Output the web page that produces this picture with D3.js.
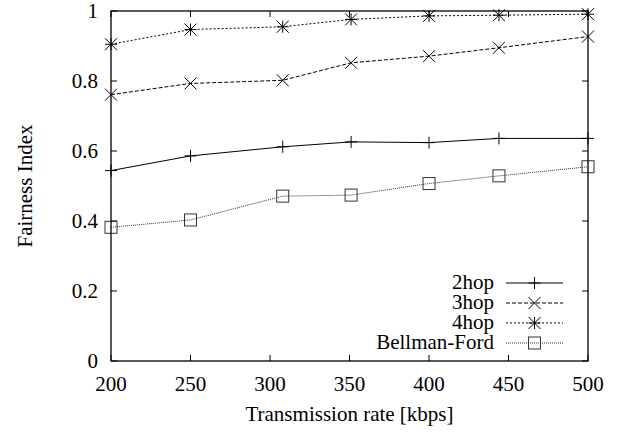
<!DOCTYPE html>
<html>
<head>
<meta charset="utf-8">
<script src="https://cdn.jsdelivr.net/npm/d3@7"></script>
<style>
  body { margin: 0; background: #fff; }
</style>
</head>
<body>
<div id="container"></div>
<script>
/* CONSTANTS AND GLOBALS */
const width = 623,
  height = 432,
  margin = {top: 11, bottom: 71, left: 111, right: 35};

/* DATA */
const rates = [200, 250, 308, 351, 400, 444, 500];
const hop2 = [0.544, 0.586, 0.612, 0.626, 0.624, 0.636, 0.636];
const hop3 = [0.761, 0.793, 0.802, 0.852, 0.871, 0.895, 0.927];
const hop4 = [0.905, 0.947, 0.955, 0.976, 0.986, 0.988, 0.991];
const bellmanFord = [0.382, 0.403, 0.471, 0.474, 0.507, 0.529, 0.555];
const seriesNames = ["2hop", "3hop", "4hop", "Bellman-Ford"];
const xTicks = [200, 250, 300, 350, 400, 450, 500];
const yTicks = [0, 0.2, 0.4, 0.6, 0.8, 1];

const series = [
  {name: seriesNames[0], values: hop2, dash: null, marker: "plus", color: "#000"},
  {name: seriesNames[1], values: hop3, dash: "4,2", marker: "cross", color: "#000"},
  {name: seriesNames[2], values: hop4, dash: "2,2", marker: "star", color: "#000"},
  {name: seriesNames[3], values: bellmanFord, dash: "1,1", marker: "square", color: "#333"}
];

/* SCALES */
const xScale = d3.scaleLinear()
  .domain([200, 500])
  .range([margin.left, width - margin.right]);

const yScale = d3.scaleLinear()
  .domain([0, 1])
  .range([height - margin.bottom, margin.top]);

const svg = d3.select("#container")
  .append("svg")
  .attr("width", width)
  .attr("height", height)
  .style("font-family", "'Liberation Serif', 'Times New Roman', Times, serif")
  .style("font-size", "21px");

const tickLen = 6;
const x0 = margin.left, x1 = width - margin.right,
  y0 = height - margin.bottom, y1 = margin.top;

// ticks on all four sides, pointing inward
const ticks = svg.append("g").attr("stroke", "#000").attr("stroke-width", 1);
xTicks.forEach(t => {
  const x = xScale(t);
  ticks.append("line").attr("x1", x).attr("x2", x).attr("y1", y0).attr("y2", y0 - tickLen);
  ticks.append("line").attr("x1", x).attr("x2", x).attr("y1", y1).attr("y2", y1 + tickLen);
});
yTicks.forEach(t => {
  const y = yScale(t);
  ticks.append("line").attr("x1", x0).attr("x2", x0 + tickLen).attr("y1", y).attr("y2", y);
  ticks.append("line").attr("x1", x1).attr("x2", x1 - tickLen).attr("y1", y).attr("y2", y);
});

// tick labels
svg.append("g").selectAll("text")
  .data(xTicks)
  .join("text")
  .attr("x", d => xScale(d))
  .attr("y", y0 + 30)
  .attr("text-anchor", "middle")
  .text(d => d);

svg.append("g").selectAll("text")
  .data(yTicks)
  .join("text")
  .attr("x", x0 - 13)
  .attr("y", d => yScale(d) + 7)
  .attr("text-anchor", "end")
  .text(d => d3.format("~g")(d));

// axis titles
svg.append("text")
  .attr("x", (x0 + x1) / 2)
  .attr("y", 421)
  .attr("text-anchor", "middle")
  .text("Transmission rate [kbps]");

svg.append("text")
  .attr("transform", `translate(32,${(y0 + y1) / 2}) rotate(-90)`)
  .attr("text-anchor", "middle")
  .text("Fairness Index");

// markers
const s = 6;
function drawMarker(g, type, x, y, color) {
  const m = g.append("g").attr("stroke", color).attr("stroke-width", 1).attr("fill", "none");
  if (type === "plus" || type === "star") {
    m.append("line").attr("x1", x - s).attr("x2", x + s).attr("y1", y).attr("y2", y);
    m.append("line").attr("x1", x).attr("x2", x).attr("y1", y - s).attr("y2", y + s);
  }
  if (type === "cross" || type === "star") {
    m.append("line").attr("x1", x - s).attr("x2", x + s).attr("y1", y - s).attr("y2", y + s);
    m.append("line").attr("x1", x - s).attr("x2", x + s).attr("y1", y + s).attr("y2", y - s);
  }
  if (type === "square") {
    m.append("rect").attr("x", x - s).attr("y", y - s).attr("width", 2 * s).attr("height", 2 * s);
  }
}

const line = d3.line()
  .x(d => xScale(d[0]))
  .y(d => yScale(d[1]));

series.forEach(sr => {
  const pts = rates.map((r, i) => [r, sr.values[i]]);
  svg.append("path")
    .datum(pts)
    .attr("fill", "none")
    .attr("stroke", sr.color)
    .attr("stroke-width", 1)
    .attr("stroke-dasharray", sr.dash)
    .attr("d", line);
  const g = svg.append("g");
  pts.forEach(p => drawMarker(g, sr.marker, xScale(p[0]), yScale(p[1]), sr.color));
});

// legend (bottom right)
const legend = svg.append("g");
series.forEach((sr, i) => {
  const ly = 283 + i * 20;
  legend.append("text")
    .attr("x", 494)
    .attr("y", ly + 6)
    .attr("text-anchor", "end")
    .text(sr.name);
  legend.append("line")
    .attr("x1", 506).attr("x2", 563)
    .attr("y1", ly).attr("y2", ly)
    .attr("stroke", sr.color)
    .attr("stroke-width", 1)
    .attr("stroke-dasharray", sr.dash);
  drawMarker(legend, sr.marker, 534.5, ly, sr.color);
});

// border
svg.append("rect")
  .attr("x", x0).attr("y", y1)
  .attr("width", x1 - x0).attr("height", y0 - y1)
  .attr("fill", "none")
  .attr("stroke", "#000")
  .attr("stroke-width", 1.3);
</script>
</body>
</html>
